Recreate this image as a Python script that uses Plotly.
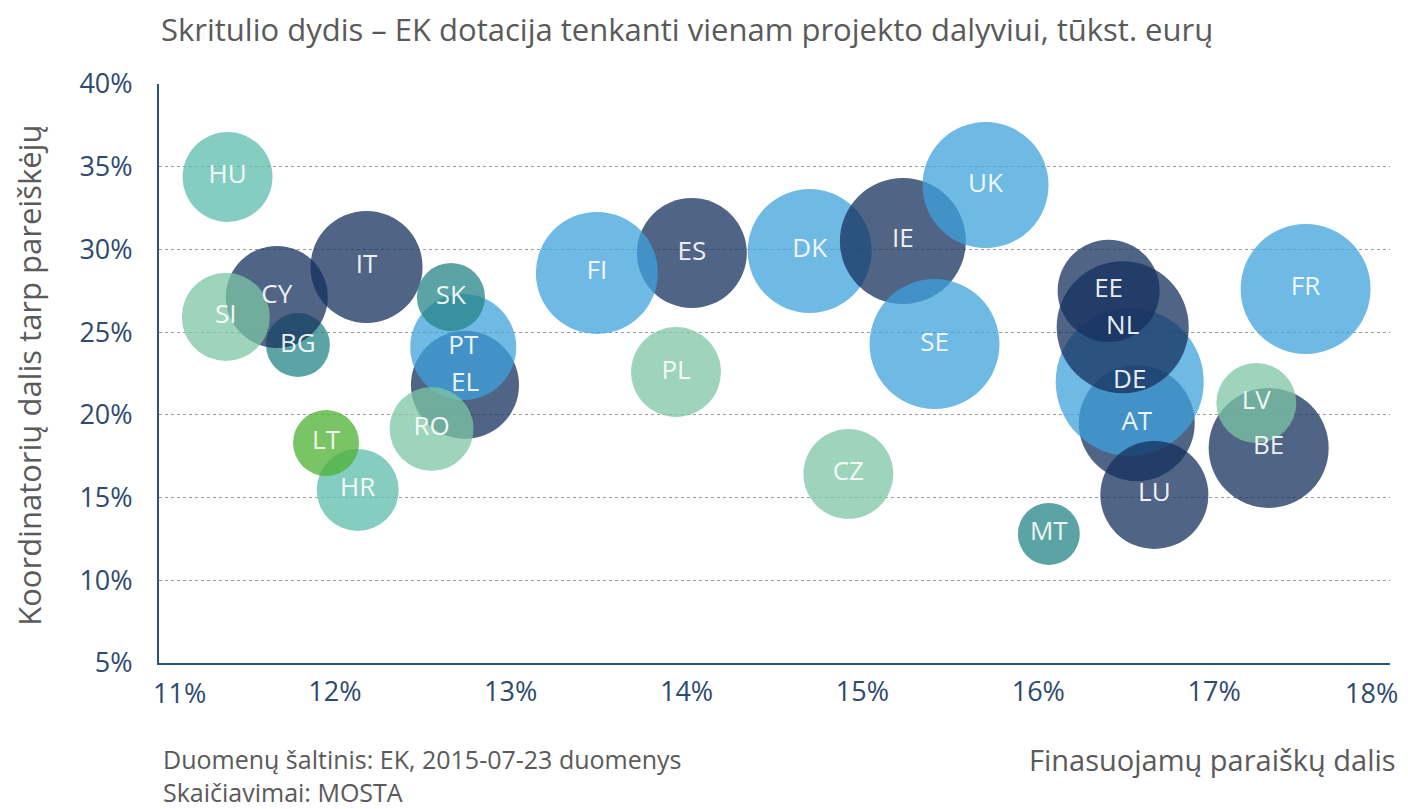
import plotly.graph_objects as go

# Country codes
countries = ["HR", "LT", "BG", "CY", "SI", "IT", "EL", "PT", "SK", "RO",
             "ES", "FI", "DK", "IE", "UK", "SE", "PL", "CZ", "MT",
             "AT", "DE", "LU", "NL", "EE", "BE", "LV", "FR", "HU"]
# Finansuojamų paraiškų dalis, %
funded_share = [12.13, 11.95, 11.79, 11.67, 11.38, 12.18, 12.74, 12.73, 12.66, 12.55,
                14.03, 13.49, 14.70, 15.23, 15.70, 15.41, 13.94, 14.92, 16.06,
                16.56, 16.52, 16.66, 16.48, 16.40, 17.31, 17.24, 17.52, 11.39]
# Koordinatorių dalis tarp pareiškėjų, %
coord_share = [15.46, 18.30, 24.22, 27.13, 25.92, 28.94, 21.81, 24.10, 27.12, 19.15,
               29.78, 28.58, 29.91, 30.51, 33.89, 24.28, 22.59, 16.43, 12.80,
               19.50, 22.00, 15.16, 25.30, 27.50, 18.00, 20.72, 27.61, 34.38]
# EK dotacija vienam projekto dalyviui, tūkst. eurų
grant_per_participant = [168, 109, 102, 260, 194, 314, 292, 281, 116, 176,
                         302, 372, 384, 397, 397, 422, 202, 202, 96,
                         336, 548, 292, 436, 260, 360, 160, 422, 202]
# Colour group per country
group = ["lteal", "green", "teal", "navy", "lgreen", "navy", "navy", "blue", "teal", "lgreen",
         "navy", "blue", "blue", "navy", "blue", "blue", "lgreen", "lgreen", "teal",
         "navy", "blue", "navy", "navy", "navy", "navy", "lgreen", "blue", "lteal"]

x_ticks = [11, 12, 13, 14, 15, 16, 17, 18]
x_labels = ["11%", "12%", "13%", "14%", "15%", "16%", "17%", "18%"]
y_ticks = [5, 10, 15, 20, 25, 30, 35, 40]
y_labels = ["5%", "10%", "15%", "20%", "25%", "30%", "35%", "40%"]

palette = {
    "navy": "#16305e",
    "blue": "#3fa2dc",
    "lteal": "#5cbcac",
    "lgreen": "#7cc6a4",
    "teal": "#248486",
    "green": "#4cb032",
}
colors = [palette[g] for g in group]

fig = go.Figure()
fig.add_trace(go.Scatter(
    x=funded_share, y=coord_share, mode="markers+text",
    text=countries, textposition="middle center",
    textfont=dict(family="Open Sans", size=26, color="rgba(255,255,255,0.92)"),
    marker=dict(size=grant_per_participant, sizemode="area", sizeref=0.05,
                color=colors, opacity=0.75, line=dict(width=0)),
    hoverinfo="text", showlegend=False,
))

axis_color = "#2c557c"
tick_color = "#2e4a6e"
tick_font = dict(family="Open Sans", size=27, color=tick_color)
note_color = "#5a5a5a"

# the outermost x labels sit inside the axis span (as in the reference)
inner_x_labels = ["" if v in (x_ticks[0], x_ticks[-1]) else t for v, t in zip(x_ticks, x_labels)]

fig.update_layout(
    width=1400, height=801,
    margin=dict(l=151, r=18, t=76, b=146),
    paper_bgcolor="white", plot_bgcolor="white",
    xaxis=dict(range=[11, 18], tickvals=x_ticks, ticktext=inner_x_labels,
               showgrid=False, zeroline=False, showline=True,
               linecolor=axis_color, linewidth=2, ticks="",
               tickfont=tick_font, ticklabelstandoff=4),
    yaxis=dict(range=[5, 40], tickvals=y_ticks, ticktext=y_labels,
               showgrid=True, gridcolor="#9a9a9a", griddash="dot", gridwidth=1,
               zeroline=False, showline=True,
               linecolor=axis_color, linewidth=2, ticks="",
               tickfont=tick_font, ticklabelstandoff=19),
    annotations=[
        dict(text=x_labels[0], xref="x", yref="paper", x=x_ticks[0], y=0,
             xanchor="left", yanchor="middle", xshift=-8, yshift=-29,
             showarrow=False, font=tick_font),
        dict(text=x_labels[-1], xref="x", yref="paper", x=x_ticks[-1], y=0,
             xanchor="right", yanchor="middle", xshift=10, yshift=-29,
             showarrow=False, font=tick_font),
        dict(text="Skritulio dydis – EK dotacija tenkanti vienam projekto dalyviui, tūkst. eurų",
             xref="paper", yref="paper", x=0, y=1.095, xanchor="left", yanchor="middle",
             showarrow=False, font=dict(family="Open Sans", size=31, color=note_color)),
        dict(text="Koordinatorių dalis tarp pareiškėjų", textangle=-90,
             xref="paper", yref="paper", x=-0.1056, y=0.496, xanchor="center", yanchor="middle",
             showarrow=False, font=dict(family="Open Sans", size=31, color=note_color)),
        dict(text="Duomenų šaltinis: EK, 2015-07-23 duomenys",
             xref="paper", yref="paper", x=0.0016, y=-0.1658, xanchor="left", yanchor="middle",
             showarrow=False, font=dict(family="Open Sans", size=25, color=note_color)),
        dict(text="Skaičiavimai: MOSTA",
             xref="paper", yref="paper", x=0.0016, y=-0.2228, xanchor="left", yanchor="middle",
             showarrow=False, font=dict(family="Open Sans", size=25, color=note_color)),
        dict(text="Finasuojamų paraiškų dalis",
             xref="paper", yref="paper", x=1.0065, y=-0.166, xanchor="right", yanchor="middle",
             showarrow=False, font=dict(family="Open Sans", size=29, color=note_color)),
    ],
)

fig.write_html("out.html")
